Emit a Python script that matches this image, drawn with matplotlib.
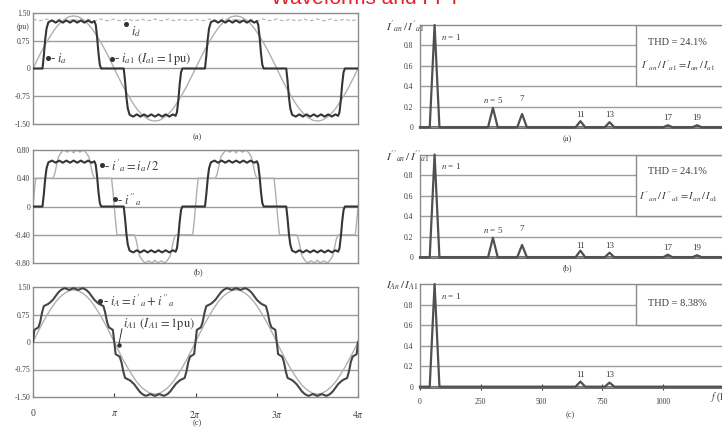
import numpy as np
import matplotlib.pyplot as plt
from matplotlib.patches import Rectangle

plt.rcParams['font.family'] = ['Liberation Serif', 'DejaVu Serif']
plt.rcParams['mathtext.fontset'] = 'stix'

# half-cycle waveforms (angle in degrees, value in pu); the negative half mirrors it
ia_deg = [0, 21, 24, 27, 30, 34, 42, 50, 58, 66, 74, 82, 90, 98, 106, 114, 122, 130,
          136, 139, 142, 145, 148, 151, 180]
ia_val = [0, 0, 0.35, 0.78, 1.08, 1.25, 1.30, 1.24, 1.30, 1.24, 1.30, 1.24, 1.30, 1.24,
          1.30, 1.24, 1.30, 1.24, 1.28, 1.18, 0.85, 0.42, 0.10, 0, 0]

sine_deg = [0, 10, 20, 30, 40, 50, 60, 70, 80, 90, 100, 110, 120, 130, 140, 150, 160, 170, 180]
sine_val = [0, 0.25, 0.49, 0.71, 0.91, 1.09, 1.23, 1.33, 1.40, 1.42, 1.40, 1.33, 1.23,
            1.09, 0.91, 0.71, 0.49, 0.25, 0]

# dc link current ripple, one 30 degree period
id_deg = [0, 5, 10, 15, 20, 25, 30]
id_val = [1.34, 1.315, 1.30, 1.295, 1.30, 1.315, 1.34]

# delta winding current i''_a
idl_deg = [0, 3, 6, 44, 48, 52, 56, 62, 68, 76, 84, 90, 96, 104, 112, 118, 124, 128,
           132, 136, 174, 177, 180]
idl_val = [0, 0.22, 0.40, 0.40, 0.46, 0.58, 0.70, 0.76, 0.80, 0.77, 0.80, 0.76, 0.80,
           0.77, 0.80, 0.76, 0.70, 0.58, 0.46, 0.40, 0.40, 0.22, 0]

# line current i_A = i'_a + i''_a
iA_deg = [0, 3, 12, 16, 20, 24, 34, 38, 44, 50, 56, 62, 70, 80, 90, 100, 110, 118, 124,
          130, 136, 142, 146, 156, 160, 164, 168, 177, 180]
iA_val = [0, 0.33, 0.40, 0.55, 0.80, 0.98, 1.04, 1.08, 1.15, 1.25, 1.35, 1.42, 1.47, 1.42,
          1.47, 1.42, 1.47, 1.42, 1.35, 1.25, 1.15, 1.08, 1.04, 0.98, 0.80, 0.55, 0.40, 0.33, 0]

# spectra
fund_hz = 60
harm_ab = [1, 5, 7, 11, 13, 17, 19]
amp_a = [1.0, 0.19, 0.13, 0.06, 0.05, 0.02, 0.02]
amp_b = [1.0, 0.19, 0.12, 0.065, 0.045, 0.025, 0.02]
harm_c = [1, 11, 13]
amp_c = [1.0, 0.05, 0.04]
thd_labels = ['THD = 24.1%', 'THD = 24.1%', 'THD = 8.38%']
ratio_labels = [r"$I'_{an}\,/\,I'_{a1} = I_{an}\,/\,I_{a1}$",
                r"$I''_{an}\,/\,I''_{a1} = I_{an}\,/\,I_{a1}$", None]
ylabels_r = [r"$I'_{an}\,/\,I'_{a1}$", r"$I''_{an}\,/\,I''_{a1}$", r"$I_{An}\,/\,I_{A1}$"]

DARK = '#353535'
LIGHT = '#b0b0b0'
GRID = '#9c9c9c'
TXT = '#3c3c3c'


def full_wave(deg, val, cycles=2):
    deg = np.asarray(deg, float)
    val = np.asarray(val, float)
    d = np.concatenate([deg, deg[1:] + 180])
    v = np.concatenate([val, -val[1:]])
    dd = np.concatenate([d] + [d[1:] + 360 * k for k in range(1, cycles)])
    vv = np.concatenate([v] + [v[1:] for k in range(1, cycles)])
    return dd, vv


def spectrum_line(harm, amp, hw=20, fmax=1260):
    xs, ys = [0], [0]
    for n, a in zip(harm, amp):
        f = n * fund_hz
        xs += [f - hw, f, f + hw]
        ys += [0, a, 0]
    xs.append(fmax)
    ys.append(0)
    return xs, ys


def px(x, y, w, h):
    return [x / 722, 1 - (y + h) / 428, w / 722, h / 428]


def wave_axes(ax, lim, labels, grid):
    ax.set_xlim(0, 720)
    ax.set_ylim(-lim, lim)
    ax.set_yticks([lim, grid[0], 0, -grid[0], -lim])
    ax.set_yticklabels(labels)
    for g in grid + [0] + [-g for g in grid]:
        ax.axhline(g, color=GRID, lw=1.0, zorder=1)
    for s in ax.spines.values():
        s.set_color('#8c8c8c')
        s.set_linewidth(1.0)
    ax.tick_params(axis='y', length=0, labelsize=5.5, pad=2, colors=TXT)
    ax.set_xticks([])


def tag(ax, x, y, text, dx=5):
    ax.plot(x, y, 'o', ms=2.6, color='#333333', zorder=5)
    ax.text(x + dx, y, '- ' + text, fontsize=9, va='center', ha='left', color=TXT, zorder=5)


fig = plt.figure(figsize=(7.22, 4.28), dpi=100)
fig.patch.set_facecolor('white')

# ---------- left: waveforms ----------
ax_a = fig.add_axes(px(33, 13, 325, 111))
ax_b = fig.add_axes(px(33, 150, 325, 113))
ax_c = fig.add_axes(px(33, 287, 325, 110))

wave_axes(ax_a, 1.5, ['1.50', '0.75', '0', '-0.75', '-1.50'], [0.75])
wave_axes(ax_b, 0.8, ['0.80', '0.40', '0', '-0.40', '-0.80'], [0.40])
wave_axes(ax_c, 1.5, ['1.50', '0.75', '0', '-0.75', '-1.50'], [0.75])

# (a)
x, y = full_wave(sine_deg, sine_val)
ax_a.plot(x, y, color=LIGHT, lw=1.0, zorder=2)
id_x = np.concatenate([np.asarray(id_deg[:-1]) + 30 * k for k in range(24)] + [[720]])
id_y = np.concatenate([id_val[:-1]] * 24 + [[id_val[-1]]])
ax_a.plot(id_x, id_y, color='#b8b8b8', lw=0.9, ls=(0, (3, 2)), zorder=2)
x, y = full_wave(ia_deg, ia_val)
ax_a.plot(x, y, color=DARK, lw=1.5, zorder=3)
ax_a.text(-0.012, 1.12, '(pu)', transform=ax_a.get_yaxis_transform(), ha='right',
          va='center', fontsize=5.5, color=TXT)
tag(ax_a, 33, 0.28, r'$i_a$')
tag(ax_a, 175, 0.25, r'$i_{a1}\ (I_{a1} = 1\mathrm{pu})$')
ax_a.plot(207, 1.20, 'o', ms=2.6, color='#333333', zorder=5)
ax_a.text(217, 1.0, r'$i_d$', fontsize=9, va='center', ha='left', color=TXT)

# (b)
x, y = full_wave(idl_deg, idl_val)
ax_b.plot(x, y, color=LIGHT, lw=1.0, zorder=2)
x, y = full_wave(ia_deg, np.asarray(ia_val) / 2)
ax_b.plot(x, y, color=DARK, lw=1.5, zorder=3)
tag(ax_b, 153, 0.585, r"$i'_a = i_a\,/\,2$")
tag(ax_b, 182, 0.10, r"$i''_a$")

# (c)
x, y = full_wave(sine_deg, sine_val)
ax_c.plot(x, y, color=LIGHT, lw=1.0, zorder=2)
x, y = full_wave(iA_deg, iA_val)
ax_c.plot(x, y, color='#454545', lw=1.5, zorder=3)
tag(ax_c, 149, 1.12, r"$i_A = i'_a + i''_a$")
ax_c.plot([197, 190], [0.36, -0.08], color='#333333', lw=0.7, zorder=5)
ax_c.plot(190, -0.08, 'o', ms=2.2, color='#333333', zorder=5)
ax_c.text(200, 0.5, r'$i_{A1}\ (I_{A1} = 1\mathrm{pu})$', fontsize=9, va='center',
          ha='left', color=TXT)
ax_c.set_xticks([0, 180, 360, 540, 720])
ax_c.set_xticklabels(['0', r'$\pi$', r'$2\pi$', r'$3\pi$', r'$4\pi$'])
ax_c.tick_params(axis='x', direction='in', length=3, labelsize=7, pad=9, colors=TXT)

# ---------- right: spectra ----------
spec = [
    (px(420, 25, 305, 102.3), harm_ab, amp_a, 0.4,
     [0.88, 0.27, 0.28, 0.12, 0.12, 0.09, 0.09], 0.83, 0.60),
    (px(420, 154.5, 305, 102.8), harm_ab, amp_b, 0.4,
     [0.89, 0.27, 0.28, 0.11, 0.11, 0.09, 0.09], 0.83, 0.59),
    (px(420, 284, 305, 102.7), harm_c, amp_c, 0.6,
     [0.88, 0.115, 0.115], 0.81, None),
]
spec_axes = []
for i, (pos, harm, amp, box_lo, lab_y, thd_y, ratio_y) in enumerate(spec):
    ax = fig.add_axes(pos)
    spec_axes.append(ax)
    ax.set_xlim(0, 1255)
    ax.set_ylim(0, 1.0)
    for g in [0.2, 0.4, 0.6, 0.8]:
        ax.axhline(g, color=GRID, lw=1.0, zorder=1)
    ax.add_patch(Rectangle((889, box_lo), 400, 1.0 - box_lo, facecolor='white',
                           edgecolor='#8c8c8c', lw=1.0, zorder=2))
    xs, ys = spectrum_line(harm, amp)
    ax.plot(xs, ys, color='#505050', lw=1.6, zorder=3, clip_on=False)
    ax.axhline(0, color='#6a6a6a', lw=2.2, zorder=2, clip_on=False)
    for s in ax.spines.values():
        s.set_color('#8c8c8c')
        s.set_linewidth(1.0)
    ax.spines['right'].set_visible(False)
    ax.set_yticks([0, 0.2, 0.4, 0.6, 0.8])
    ax.set_yticklabels(['0', '0.2', '0.4', '0.6', '0.8'])
    ax.tick_params(axis='y', length=0, labelsize=5.5, pad=5, colors=TXT)
    ax.set_xticks([])
    # harmonic labels
    for n, ly in zip(harm, lab_y):
        if n == 1:
            ax.text(fund_hz + 28, ly, r'$n$ = 1', fontsize=6.5, ha='left', va='center', color=TXT)
        elif n == 5:
            ax.text(n * fund_hz, ly, r'$n$ = 5', fontsize=6.5, ha='center', va='center', color=TXT)
        else:
            ax.text(n * fund_hz, ly, str(n), fontsize=6.5, ha='center', va='center', color=TXT)
    ax.text(1060, thd_y, thd_labels[i], fontsize=7.5, ha='center', va='center', color=TXT, zorder=4)
    if ratio_y is not None:
        ax.text(1062, ratio_y, ratio_labels[i], fontsize=7.5, ha='center', va='center',
                color=TXT, zorder=4)
    ax.text(-0.11, 0.98, ylabels_r[i], transform=ax.transAxes, fontsize=8, ha='left',
            va='center', color=TXT)

ax_r3 = spec_axes[2]
ax_r3.set_xticks([0, 250, 500, 750, 1000])
ax_r3.set_xticklabels(['0', '250', '500', '750', '1000'])
ax_r3.tick_params(axis='x', direction='inout', length=4, labelsize=5.5, pad=6, colors=TXT)
ax_r3.text(1192, -0.1, r'$f$ (Hz)', fontsize=7, ha='left', va='center', color=TXT,
           clip_on=False)

# captions
for cx, cy, s in [(197, 137, '(a)'), (198, 272, '(b)'), (197, 423, '(c)'),
                  (567, 139, '(a)'), (567, 268, '(b)'), (570, 415, '(c)')]:
    fig.text(cx / 722, 1 - cy / 428, s, fontsize=6, ha='center', va='center', color=TXT)

fig.text(0.507, 1 - 3.5 / 428, 'Waveforms and FFT', fontsize=15, color='#e3202a',
         ha='center', va='baseline', family='Liberation Sans')

fig.savefig('out.png', dpi=100)
